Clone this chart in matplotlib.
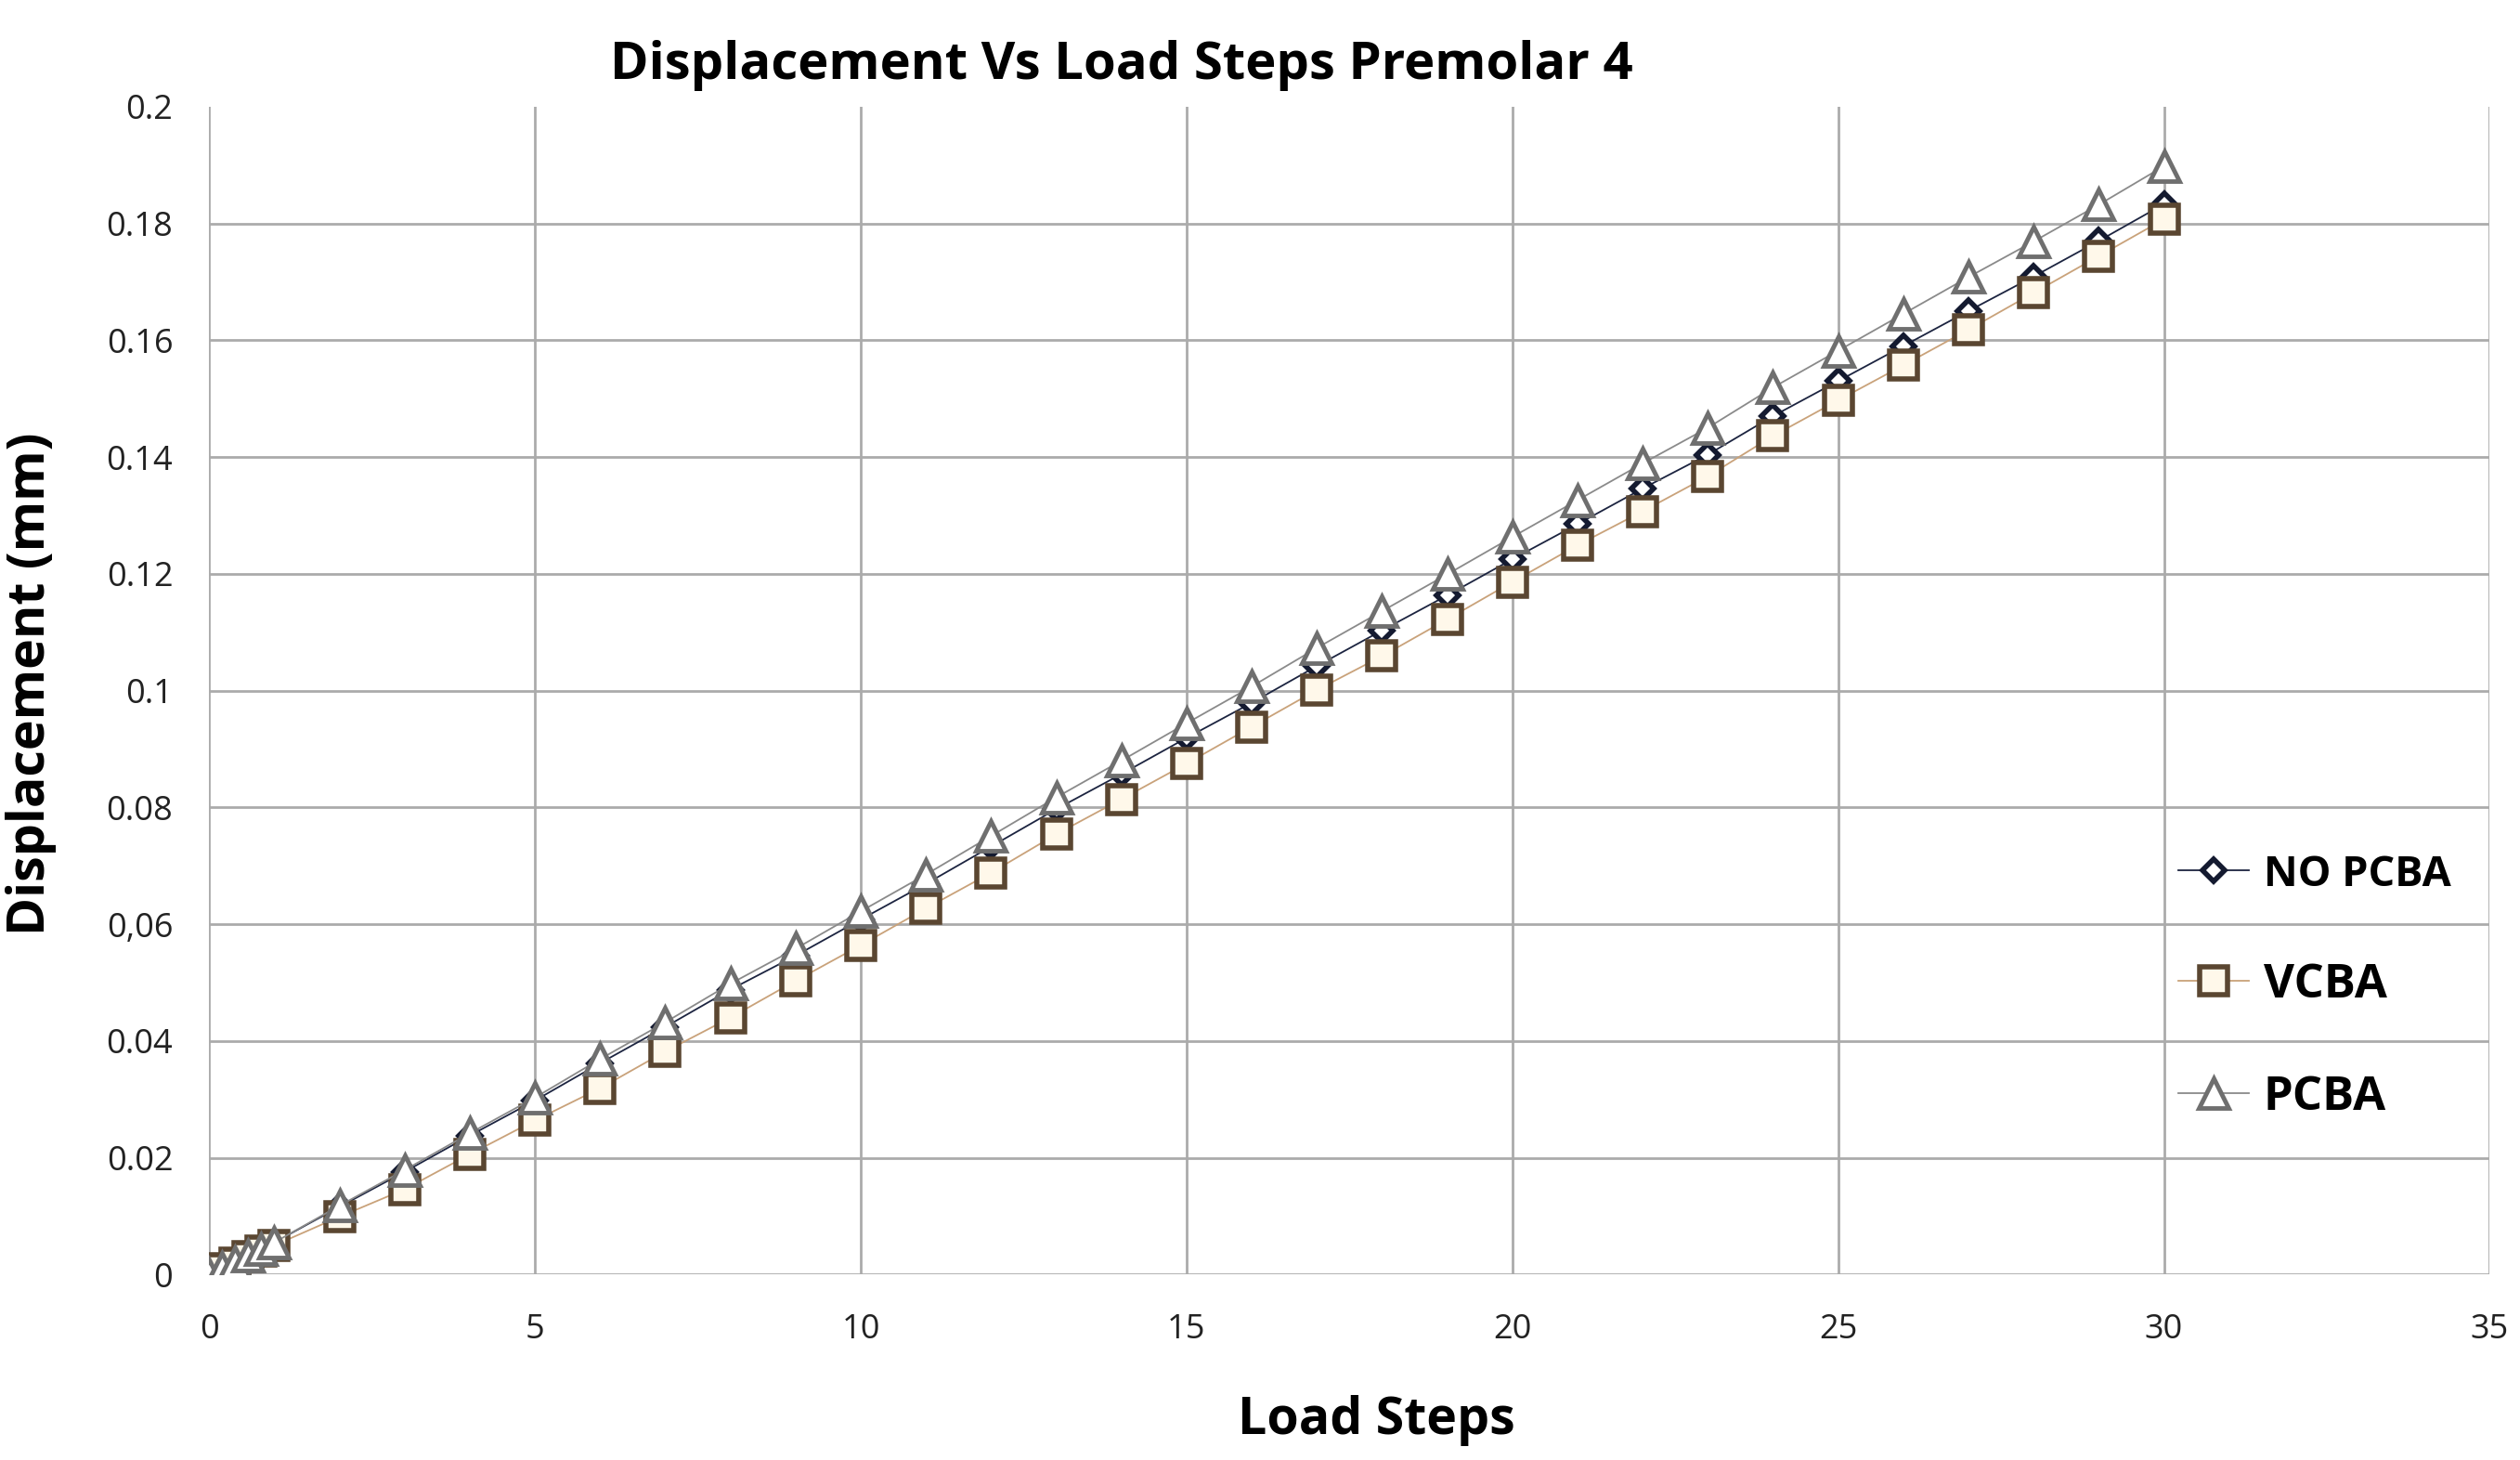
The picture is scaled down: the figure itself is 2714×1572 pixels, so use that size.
import matplotlib
matplotlib.use("Agg")
import matplotlib.pyplot as plt

plt.rcParams['font.family'] = ['Open Sans', 'DejaVu Sans']

# load steps (first step split in 0.2 increments)
load_steps = [0, 0.2, 0.4, 0.6, 0.8, 1, 2, 3, 4, 5, 6, 7, 8, 9, 10, 11, 12, 13, 14, 15,
              16, 17, 18, 19, 20, 21, 22, 23, 24, 25, 26, 27, 28, 29, 30]

no_pcba = [0, 0.0011, 0.0022, 0.0033, 0.0044, 0.0055, 0.0116, 0.0176, 0.0238, 0.0298,
           0.0362, 0.0424, 0.0488, 0.0546, 0.0608, 0.0669, 0.0733, 0.0797, 0.0857, 0.0919,
           0.0979, 0.1042, 0.1103, 0.1163, 0.1225, 0.1285, 0.1346, 0.1404, 0.1470, 0.1530,
           0.1590, 0.1650, 0.1709, 0.1770, 0.1833]

vcba = [0, 0.0010, 0.0020, 0.0030, 0.0040, 0.0050, 0.0099, 0.0146, 0.0206, 0.0264,
        0.0319, 0.0382, 0.0440, 0.0503, 0.0564, 0.0627, 0.0688, 0.0754, 0.0814, 0.0875,
        0.0938, 0.1001, 0.1059, 0.1122, 0.1186, 0.1249, 0.1307, 0.1367, 0.1436, 0.1497,
        0.1557, 0.1618, 0.1681, 0.1744, 0.1807]

pcba = [0, 0.0011, 0.0022, 0.0033, 0.0044, 0.0055, 0.0118, 0.0179, 0.0242, 0.0303,
        0.0369, 0.0432, 0.0498, 0.0558, 0.0622, 0.0685, 0.0751, 0.0817, 0.0880, 0.0944,
        0.1007, 0.1073, 0.1136, 0.1199, 0.1263, 0.1326, 0.1389, 0.1450, 0.1519, 0.1582,
        0.1645, 0.1708, 0.1769, 0.1832, 0.1898]

y_ticks = [0, 0.02, 0.04, 0.06, 0.08, 0.1, 0.12, 0.14, 0.16, 0.18, 0.2]
y_tick_labels = ["0", "0.02", "0.04", "0,06", "0.08", "0.1", "0.12", "0.14", "0.16", "0.18", "0.2"]
x_ticks = [0, 5, 10, 15, 20, 25, 30, 35]

fig = plt.figure(figsize=(27.14, 15.72), dpi=100)
ax = fig.add_axes([0.083, 0.127, 0.905, 0.80])

ax.plot(load_steps, no_pcba, color='#1c2440', linewidth=1.3, marker='D', markersize=12,
        markerfacecolor='white', markeredgecolor='#141a30', markeredgewidth=4,
        label='NO PCBA', zorder=3)
ax.plot(load_steps, vcba, color='#c9a27a', linewidth=1.3, marker='s', markersize=22,
        markerfacecolor='#fff8ea', markeredgecolor='#5a4631', markeredgewidth=4,
        label='VCBA', zorder=4)
ax.plot(load_steps, pcba, color='#8a8a8a', linewidth=1.3, marker='^', markersize=23,
        markerfacecolor='white', markeredgecolor='#6f6f6f', markeredgewidth=3.5,
        label='PCBA', zorder=5)

ax.set_xlim(0, 35)
ax.set_ylim(0, 0.2)
ax.set_xticks(x_ticks)
ax.set_yticks(y_ticks)
ax.set_yticklabels(y_tick_labels)
ax.tick_params(axis='both', length=0, labelsize=26, colors='#222222')
ax.tick_params(axis='y', pad=28)
ax.tick_params(axis='x', pad=30)

ax.grid(True, color='#ababab', linewidth=2)
ax.set_axisbelow(True)
ax.yaxis.get_gridlines()[-1].set_visible(False)
for s in ax.spines.values():
    s.set_visible(False)

ax.text(0.40, 1.035, "Displacement Vs Load Steps Premolar 4", transform=ax.transAxes,
        ha='center', va='center', fontsize=40.5, fontweight='bold')
ax.set_ylabel("Displacement (mm)", fontsize=40, fontweight='bold')
ax.yaxis.set_label_coords(-0.067, 0.506)
ax.set_xlabel("Load Steps", fontsize=40, fontweight='bold')
ax.xaxis.set_label_coords(0.512, -0.103)

leg = ax.legend(loc='center left', bbox_to_anchor=(0.845, 0.246), frameon=False,
                handlelength=1.5, handletextpad=0.3, labelspacing=1.4, fontsize=36.5)
leg.get_texts()[0].set_fontsize(32.5)
for t in leg.get_texts():
    t.set_fontweight('bold')

fig.savefig("out.png", dpi=100)
